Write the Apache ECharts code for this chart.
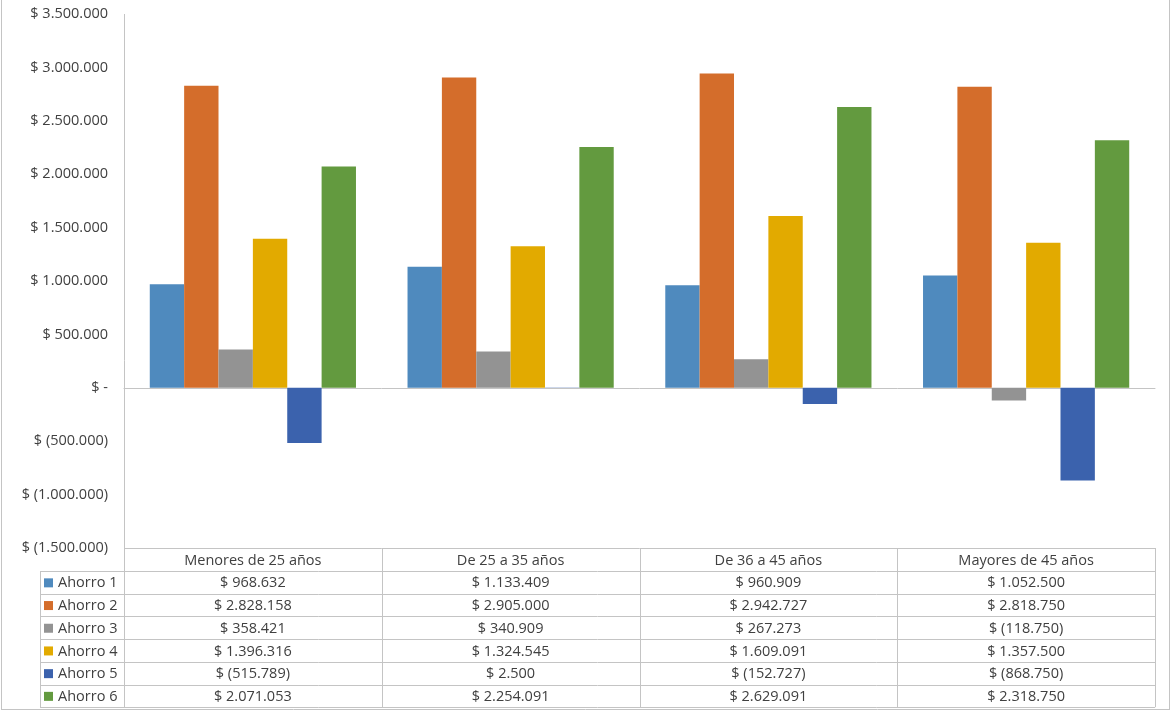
<!DOCTYPE html>
<html>
<head>
<meta charset="utf-8">
<script src="https://cdn.jsdelivr.net/npm/echarts@6/dist/echarts.min.js"></script>
<style>
  html, body { margin: 0; padding: 0; background: #fff; }
  #chart { width: 1175px; height: 713px; }
</style>
</head>
<body>
<div id="chart"></div>
<script>
// datos
const categories = ['Menores de 25 años', 'De 25 a 35 años', 'De 36 a 45 años', 'Mayores de 45 años'];
const seriesNames = ['Ahorro 1', 'Ahorro 2', 'Ahorro 3', 'Ahorro 4', 'Ahorro 5', 'Ahorro 6'];
const ahorro1 = [968632, 1133409, 960909, 1052500];
const ahorro2 = [2828158, 2905000, 2942727, 2818750];
const ahorro3 = [358421, 340909, 267273, -118750];
const ahorro4 = [1396316, 1324545, 1609091, 1357500];
const ahorro5 = [-515789, 2500, -152727, -868750];
const ahorro6 = [2071053, 2254091, 2629091, 2318750];
const colors = ['#4f8abe', '#d46d2b', '#939393', '#e2aa00', '#3b62ad', '#639a3f'];

const allData = [ahorro1, ahorro2, ahorro3, ahorro4, ahorro5, ahorro6];

// formato moneda estilo excel
function fmt(v) {
	if (v === 0) return '$ -';
	let s = String(Math.abs(v)).replace(/\B(?=(\d{3})+(?!\d))/g, '.');
	return v < 0 ? '$ (' + s + ')' : '$ ' + s;
}

const gridLeft = 124, gridRight = 20, gridTop = 14, gridBottom = 165;
const W = 1175, H = 713;
const font = '"Open Sans", sans-serif';
const fontSize = 14.5;
const textColor = '#404040';
const lineColor = '#c4c4c4';

const chart = echarts.init(document.getElementById('chart'));

const option = {
	animation: false,
	color: colors,
	grid: { left: gridLeft, right: gridRight, top: gridTop, bottom: gridBottom },
	xAxis: {
		type: 'category',
		data: categories,
		axisLine: { lineStyle: { color: lineColor } },
		axisTick: { show: false },
		axisLabel: { show: false }
	},
	yAxis: {
		type: 'value',
		min: -1500000,
		max: 3500000,
		interval: 500000,
		axisLine: { show: false },
		axisTick: { show: false },
		splitLine: { show: false },
		axisLabel: {
			formatter: fmt,
			color: textColor,
			fontFamily: font,
			fontSize: fontSize,
			margin: 16
		}
	},
	series: seriesNames.map(function (name, i) {
		return {
			name: name,
			type: 'bar',
			data: allData[i],
			barGap: '0%',
			barCategoryGap: '20%'
		};
	})
};

chart.setOption(option);

// tabla de datos debajo del grafico
const plotW = W - gridLeft - gridRight;
const colW = plotW / categories.length;
const tableTop = H - gridBottom;
const headerH = 23;
const rowH = 22.7;
const legendLeft = 40;
const plotRight = W - gridRight;
const g = [];

function line(x1, y1, x2, y2) {
	g.push({ type: 'line', shape: { x1: x1, y1: y1, x2: x2, y2: y2 }, style: { stroke: lineColor, lineWidth: 1 }, silent: true });
}
function text(x, y, s, align) {
	g.push({ type: 'text', x: x, y: y, style: { text: s, fill: textColor, font: fontSize + 'px ' + font, align: align || 'center', verticalAlign: 'middle' }, silent: true });
}

const tableBottom = tableTop + headerH + rowH * seriesNames.length;

// marco exterior
line(1.5, 0, 1.5, H - 3);
line(W - 5.5, 0, W - 5.5, H - 3);
line(1.5, H - 3.5, W - 5.5, H - 3.5);

// eje y hasta el final de la tabla
line(gridLeft + 0.5, gridTop, gridLeft + 0.5, tableBottom);
line(gridLeft, tableTop + 0.5, plotRight, tableTop + 0.5);

for (let c = 0; c < categories.length; c++) {
	let cx = chart.convertToPixel({ xAxisIndex: 0 }, categories[c]);
	text(cx, tableTop + headerH / 2 + 1, categories[c]);
	let xr = Math.round(gridLeft + colW * (c + 1)) + 0.5;
	line(xr, tableTop, xr, tableBottom);
	for (let r = 0; r < seriesNames.length; r++) {
		text(cx, tableTop + headerH + rowH * r + rowH / 2 + 1, fmt(allData[r][c]));
	}
}

line(legendLeft + 0.5, tableTop + headerH, legendLeft + 0.5, tableBottom);
for (let r = 0; r <= seriesNames.length; r++) {
	let y = Math.round(tableTop + headerH + rowH * r) + 0.5;
	line(legendLeft, y, plotRight, y);
	if (r < seriesNames.length) {
		let cy = tableTop + headerH + rowH * r + rowH / 2;
		g.push({ type: 'rect', shape: { x: legendLeft + 4, y: cy - 4, width: 9, height: 9 }, style: { fill: colors[r] }, silent: true });
		text(legendLeft + 18, cy + 1, seriesNames[r], 'left');
	}
}

chart.setOption({ graphic: { elements: g } });

window.onresize = chart.resize;
</script>
</body>
</html>
